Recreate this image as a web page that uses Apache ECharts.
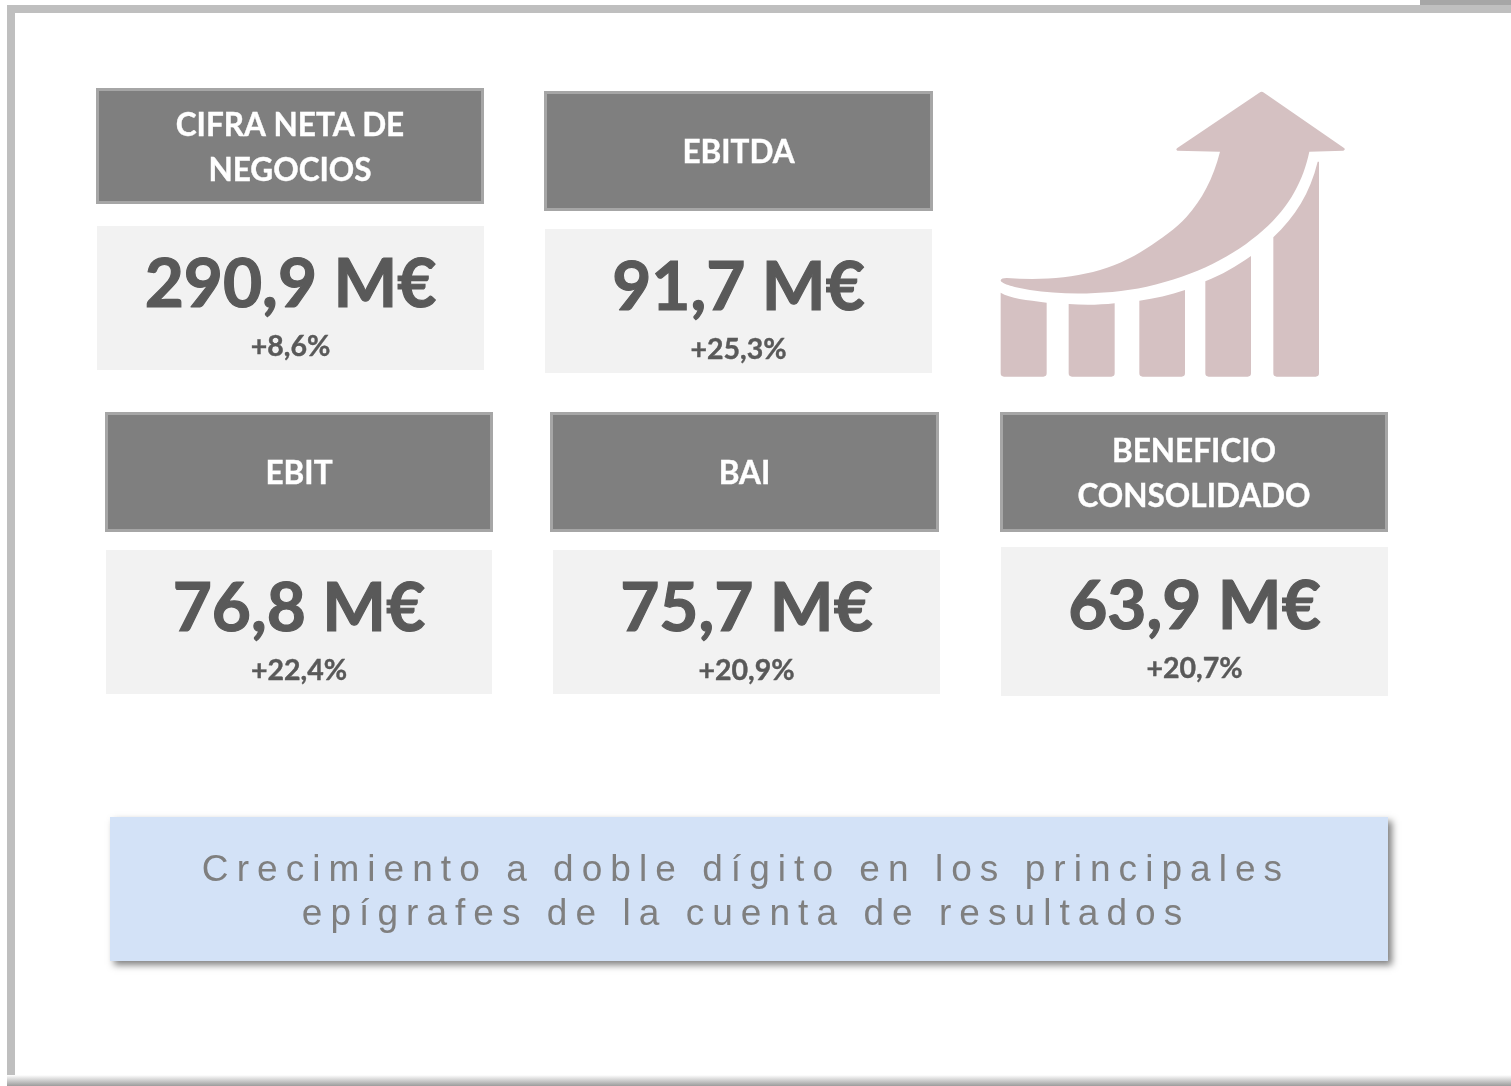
<!DOCTYPE html>
<html><head><meta charset="utf-8">
<style>html,body{margin:0;padding:0;background:#fff}#c{width:1511px;height:1086px}</style>
<script src="https://cdn.jsdelivr.net/npm/echarts@6/dist/echarts.min.js"></script>
</head><body><div id="c"></div>
<script>
const titles = [["CIFRA NETA DE","NEGOCIOS"],["EBITDA"],["EBIT"],["BAI"],["BENEFICIO","CONSOLIDADO"]];
const values = ["290,9 M€","91,7 M€","76,8 M€","75,7 M€","63,9 M€"];
const changes = ["+8,6%","+25,3%","+22,4%","+20,9%","+20,7%"];
const sloganLines = ["Crecimiento a doble dígito en los principales","epígrafes de la cuenta de resultados"];

// layout: header box [x0,y0,x1,y1], value box [x0,y0,x1,y1]
const headerBoxes = [[96,88,484,204],[544,91,933,211],[105,412,493,532],[550,412,939,532],[1000,412,1388,532]];
const valueBoxes = [[97,226,484,370],[545,229,932,373],[106,550,492,694],[553,550,940,694],[1001,547,1388,696]];
const valueY = [285,288,609,609,607];
const changeY = [347,350,671,671,669];
const FONT = 'Lato, "Noto Sans", sans-serif';

// wide tracking for the slogan lines (zrender text has no letter-spacing option)
const nativeFill = CanvasRenderingContext2D.prototype.fillText;
CanvasRenderingContext2D.prototype.fillText = function (t, x, y, m) {
  this.letterSpacing = sloganLines.includes(t) ? '8.05px' : '0px';
  return m === undefined ? nativeFill.call(this, t, x, y) : nativeFill.call(this, t, x, y, m);
};

const g = [];
const rect = (b, fill, extra) => ({type:'rect', silent:true,
  shape:{x:b[0],y:b[1],width:b[2]-b[0],height:b[3]-b[1]}, style:Object.assign({fill},extra||{})});
const text = (t,x,y,size,weight,fill,family,bold) => ({type:'text', silent:true,
  style:Object.assign({text:t,x,y,align:'center',verticalAlign:'middle',font:`${weight} ${size}px ${family||FONT}`,fill},
    bold?{stroke:fill,lineWidth:bold}:{})});

// frame
g.push(rect([1420,0,1511,6],'#a6a6a6'));
g.push(rect([7,5,1511,13],'#bfbfbf'));
g.push(rect([7,5,15,1086],'#bfbfbf'));
g.push({type:'rect',silent:true,shape:{x:7,y:1075,width:1504,height:11},
  style:{fill:{type:'linear',x:0,y:0,x2:0,y2:1,colorStops:[{offset:0,color:'#ffffff'},{offset:1,color:'#9c9c9c'}]}}});

// cards
titles.forEach((lines,i)=>{
  const h=headerBoxes[i], v=valueBoxes[i], cx=(h[0]+h[2])/2, cy=(h[1]+h[3])/2;
  g.push(rect([h[0]+1.5,h[1]+1.5,h[2]-1.5,h[3]-1.5],'#7f7f7f',{stroke:'#a6a6a6',lineWidth:3}));
  lines.forEach((l,k)=>g.push(text(l,cx,cy+2+(k-(lines.length-1)/2)*45,31.5,700,'#ffffff',FONT,0.4)));
  g.push(rect(v,'#f2f2f2'));
  const vx=(v[0]+v[2])/2;
  g.push(text(values[i],vx,valueY[i],67.5,700,'#595959',FONT,1.2));
  g.push(text(changes[i],vx,changeY[i],28.5,700,'#595959',FONT,0.4));
});

// rising-arrow pictogram (drawn in a 3x local frame)
const icon = [
 "M62 638 C90 655 140 660 200 668 L200 880 Q200 890 190 890 L72 890 Q62 890 62 880 Z",
 "M266 672 C310 676 360 675 404 670 L404 880 Q404 890 394 890 L276 890 Q266 890 266 880 Z",
 "M478 662 C525 656 570 645 615 630 L615 880 Q615 890 605 890 L488 890 Q478 890 478 880 Z",
 "M676 604 C725 585 770 558 813 528 L813 880 Q813 890 803 890 L686 890 Q676 890 676 880 Z",
 "M880 472 C945 410 990 340 1013 245 L1017 245 L1017 880 Q1017 890 1007 890 L890 890 Q880 890 880 880 Z",
 "M80 594 C240 605 380 585 500 505 C540 478 590 445 620 410 C665 360 700 295 720 215 L592 212 Q586 208 592 204 L838 38 Q845 33 852 38 L1092 204 Q1098 208 1090 212 L988 215 C970 300 930 380 850 450 C760 530 650 585 500 620 C380 645 250 645 150 630 C110 624 62 612 62 601 Q64 594 80 594 Z"
];
icon.forEach((d,i)=>{
  echarts.graphic.registerShape('icon'+i, echarts.graphic.extendPath(d,{}));
  g.push({type:'icon'+i,silent:true,x:980,y:80,scaleX:1/3,scaleY:1/3,style:{fill:'#d5c1c2'}});
});

// slogan
g.push(rect([110,817,1388,961],'#d3e2f7',{shadowColor:'rgba(0,0,0,0.5)',shadowBlur:7,shadowOffsetX:4,shadowOffsetY:4}));
g.push(text(sloganLines[0],746,871,37,400,'#7f7f7f','"Liberation Sans", Arial, sans-serif'));
g.push(text(sloganLines[1],746,915,37,400,'#7f7f7f','"Liberation Sans", Arial, sans-serif'));

const chart = echarts.init(document.getElementById('c'),null,{renderer:'canvas',width:1511,height:1086});
chart.setOption({backgroundColor:'#ffffff',animation:false,graphic:{elements:g}});
</script></body></html>
